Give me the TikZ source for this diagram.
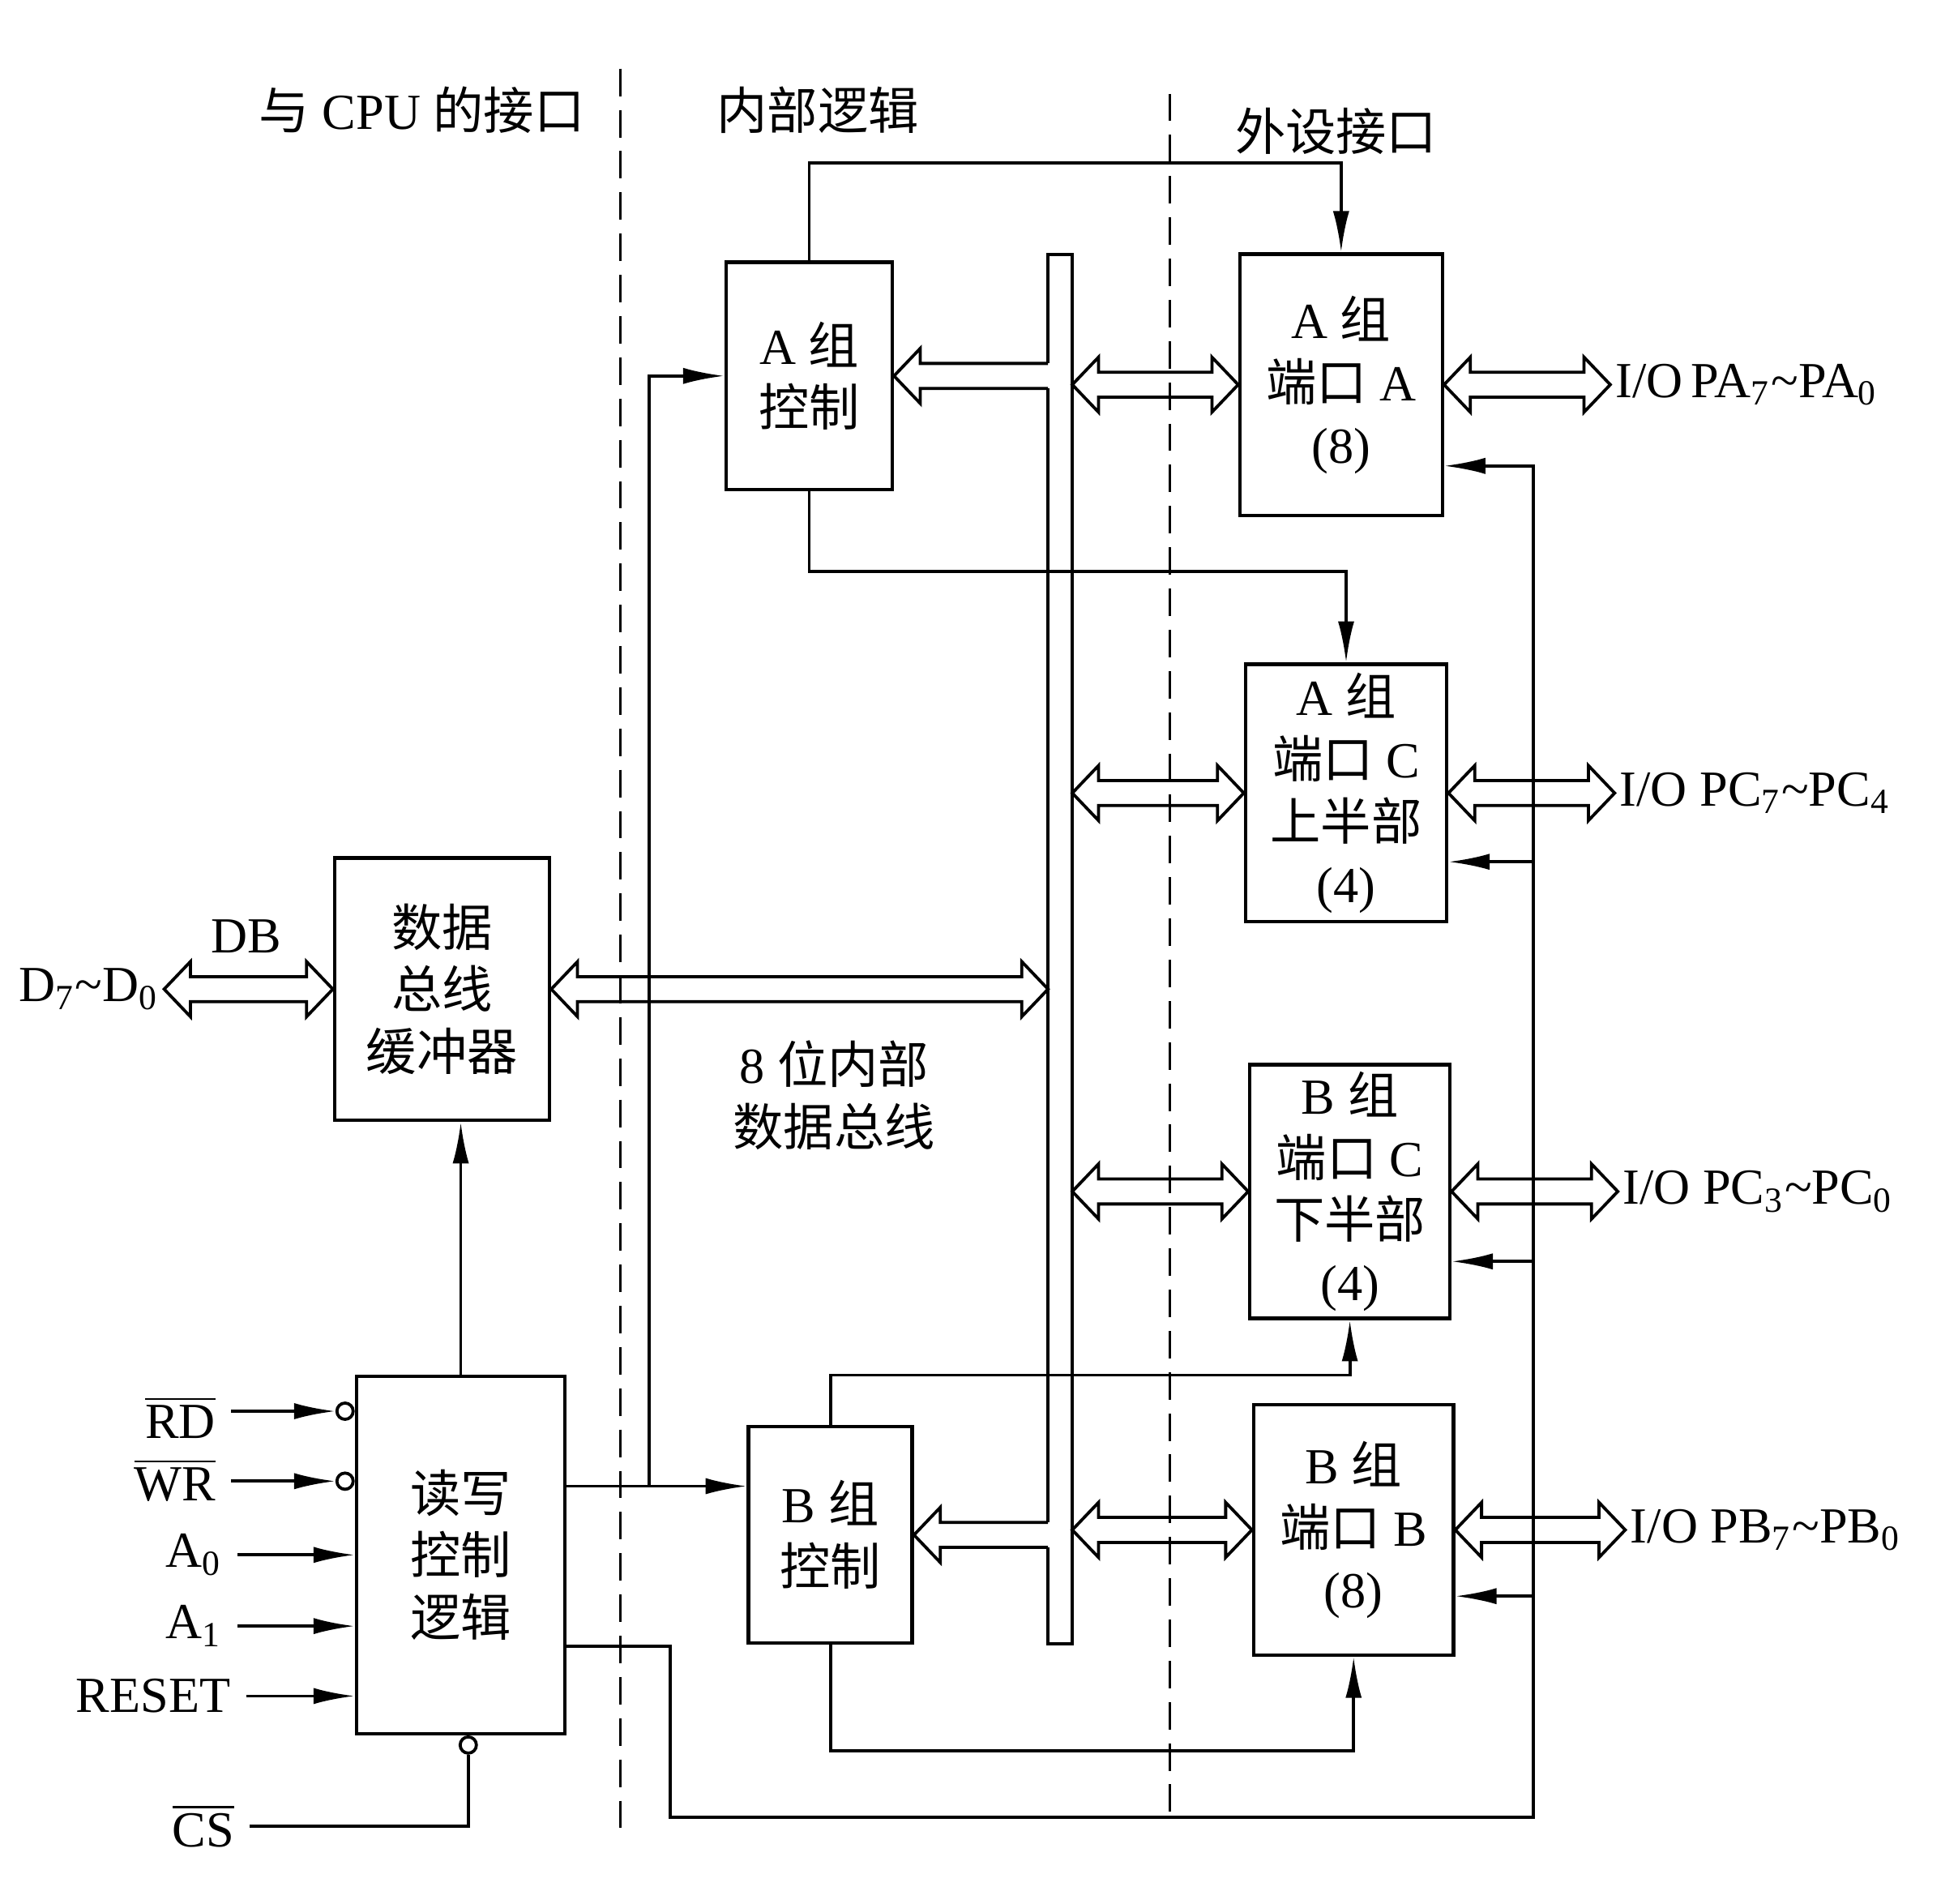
\documentclass[tikz,border=0pt]{standalone}
\usepackage{fontspec}
\setmainfont{Liberation Serif}
\newfontfamily\cjk{Noto Sans CJK SC}
\usepackage{tikz}
\usetikzlibrary{positioning,arrows.meta,calc}

\newcommand\zh[1]{{\cjk #1}}
\newcommand\fz{\fontsize{11.5}{14.2}\selectfont}

\tikzset{
  blk/.style={draw, line width=0.8pt, align=center, inner sep=0pt},
  ln/.style={line width=0.7pt},
  sig/.style={line width=0.7pt, -{Latex[length=3.3mm,width=1.3mm]}},
  inv/.style={circle, draw, line width=0.7pt, minimum size=1.3mm, inner sep=0pt},
  dsh/.style={line width=0.6pt, dash pattern=on 2.2mm off 1.1mm},
  io/.style={inner sep=1pt},
  wide/.style={line width=0.7pt, line join=miter}
}

% hollow bus arrow, heads at both ends
\newcommand\wbus[2]{\draw[wide] let \p1=(#1), \p2=(#2), \n1={sign(\x2-\x1)} in
    (\x1,\y1) -- ({\x1+\n1*2.1mm},{\y1+2.2mm}) -- ({\x1+\n1*2.1mm},{\y1+1mm})
    -- ({\x2-\n1*2.1mm},{\y1+1mm}) -- ({\x2-\n1*2.1mm},{\y1+2.2mm}) -- (\x2,\y1)
    -- ({\x2-\n1*2.1mm},{\y1-2.2mm}) -- ({\x2-\n1*2.1mm},{\y1-1mm})
    -- ({\x1+\n1*2.1mm},{\y1-1mm}) -- ({\x1+\n1*2.1mm},{\y1-2.2mm}) -- cycle;}
% hollow bus arrow, open tail on the bus
\newcommand\wbusl[2]{\draw[wide] let \p1=(#1), \p2=(#2), \n1={sign(\x2-\x1)} in
    (\x1,{\y1+1mm}) -- ({\x2-\n1*2.1mm},{\y1+1mm}) -- ({\x2-\n1*2.1mm},{\y1+2.2mm})
    -- (\x2,\y1) -- ({\x2-\n1*2.1mm},{\y1-2.2mm}) -- ({\x2-\n1*2.1mm},{\y1-1mm})
    -- (\x1,{\y1-1mm});}

\begin{document}
\begin{tikzpicture}[x=0.01cm, y=-0.01cm, font=\fz]
  \useasboundingbox (0,0) rectangle (1568,1524);

  % headings and dividers
  \node (hcpu) at (338,88) {\zh{与} CPU \zh{的接口}};
  \node (hint) at (655,88) {\zh{内部逻辑}};
  \node (hdev) at (1070,105) {\zh{外设接口}};
  \draw[dsh] (497,55) -- (497,1465);
  \draw[dsh] (937,75) -- (937,1460);

  % blocks
  \node[blk, minimum width=1.33cm, minimum height=1.82cm] (actl) at (648,301) {A \zh{组}\\\zh{控制}};
  \node[blk, minimum width=1.62cm, minimum height=2.09cm] (pa) at (1074,308) {A \zh{组}\\\zh{端口} A\\(8)};
  \node[blk, minimum width=1.61cm, minimum height=2.06cm] (pcu) at (1078,635) {A \zh{组}\\\zh{端口} C\\\zh{上半部}\\(4)};
  \node[blk, minimum width=1.60cm, minimum height=2.03cm] (pcl) at (1081,954) {B \zh{组}\\\zh{端口} C\\\zh{下半部}\\(4)};
  \node[blk, minimum width=1.60cm, minimum height=2.00cm] (pb) at (1084,1225) {B \zh{组}\\\zh{端口} B\\(8)};
  \node[blk, minimum width=1.31cm, minimum height=1.73cm] (bctl) at (665,1229) {B \zh{组}\\\zh{控制}};
  \node[blk, minimum width=1.72cm, minimum height=2.10cm] (dbuf) at (354,792) {\zh{数据}\\\zh{总线}\\\zh{缓冲器}};
  \node[blk, minimum width=1.67cm, minimum height=2.86cm] (rw) at (369,1245) {\zh{读写}\\\zh{控制}\\\zh{逻辑}};
  \node[minimum width=1.8mm, minimum height=11.1cm, inner sep=0pt] (bus) at (849,760) {};

  % internal bus outline, open where the control arrows join
  \path (actl.east -| bus.west) coordinate (g1) (bctl.east -| bus.west) coordinate (g2);
  \draw[ln] ([yshift=1mm]g1) -- (bus.north west) -- (bus.north east) -- (bus.south east)
    -- (bus.south west) -- ([yshift=-1mm]g2)
    ([yshift=-1mm]g1) -- ([yshift=1mm]g2);

  % outside labels
  \node[io, right=1.33cm of pa] (ioPA) {I/O\,PA\textsubscript{7}\textasciitilde PA\textsubscript{0}};
  \node[io, right=1.33cm of pcu] (ioPCu) {I/O PC\textsubscript{7}\textasciitilde PC\textsubscript{4}};
  \node[io, right=1.33cm of pcl] (ioPCl) {I/O PC\textsubscript{3}\textasciitilde PC\textsubscript{0}};
  \node[io, right=1.36cm of pb] (ioPB) {I/O PB\textsubscript{7}\textasciitilde PB\textsubscript{0}};
  \node[io, left=1.35cm of dbuf] (dd) {D\textsubscript{7}\textasciitilde D\textsubscript{0}};
  \node (dblab) at (197,750) {DB};
  \node[align=center] (ibus) at (668,877) {8 \zh{位内部}\\\zh{数据总线}};

  % hollow bus arrows
  \wbus{dd.east}{dbuf.west}
  \wbus{dbuf.east}{dbuf.east -| bus.west}
  \wbusl{g1}{actl.east}
  \wbusl{g2}{bctl.east}
  \wbus{pa.west -| bus.east}{pa.west}
  \wbus{pcu.west -| bus.east}{pcu.west}
  \wbus{pcl.west -| bus.east}{pcl.west}
  \wbus{pb.west -| bus.east}{pb.west}
  \wbus{pa.east}{ioPA.west}
  \wbus{pcu.east}{ioPCu.west}
  \wbus{pcl.east}{ioPCl.west}
  \wbus{pb.east}{ioPB.west}

  % control lines from the group controls
  \draw[sig] (actl.north) -- ++(0,-78) -| (pa.north);
  \draw[sig] (actl.south) -- ++(0,64) -| (pcu.north);
  \draw[sig] (bctl.north) -- ++(0,-40) -| (pcl.south);
  \draw[sig] (bctl.south) -- ++(0,85) -| (pb.south);

  % read/write logic outputs
  \coordinate (rwo) at ([yshift=5.5mm]rw.east);
  \coordinate (rwf) at ([yshift=-7.3mm]rw.east);
  \coordinate (fb) at (1228,1455);
  \coordinate (ina) at ([yshift=-6.5mm]pa.east);
  \coordinate (inc) at ([yshift=-5.5mm]pcu.east);
  \coordinate (ind) at ([yshift=-5.6mm]pcl.east);
  \coordinate (inb) at ([yshift=-5.3mm]pb.east);
  \draw[sig] (rwo) -- (rwo -| bctl.west);
  \draw[sig] ([xshift=6.6mm]rwo) |- (actl.west);
  \draw[sig] (rwf) -- ++(83,0) |- (fb) |- (ina);
  \draw[sig] (fb |- inc) -- (inc);
  \draw[sig] (fb |- ind) -- (ind);
  \draw[sig] (fb |- inb) -- (inb);
  \draw[sig] (rw.north) -- (rw.north |- dbuf.south);

  % CPU side inputs
  \node[inv, anchor=east] (nrd) at ([yshift=11.5mm]rw.west) {};
  \node[inv, anchor=east] (nwr) at ([yshift=5.9mm]rw.west) {};
  \node[inv, anchor=north] (ncs) at ([xshift=0.6mm]rw.south) {};
  \node[anchor=east] (rd) at (185,1135) {$\overline{\mbox{RD}}$};
  \node[anchor=east] (wr) at (185,1185) {$\overline{\mbox{WR}}$};
  \node[anchor=east] (a0) at (190,1245) {A\textsubscript{0}};
  \node[anchor=east] (a1) at (190,1302) {A\textsubscript{1}};
  \node[anchor=east] (rst) at (197,1358) {RESET};
  \node[anchor=east] (cs) at (200,1462) {$\overline{\mbox{CS}}$};
  \draw[sig] (rd.east |- nrd) -- (nrd.west);
  \draw[sig] (wr.east |- nwr) -- (nwr.west);
  \draw[sig] (a0.east) -- (a0.east -| rw.west);
  \draw[sig] (a1.east) -- (a1.east -| rw.west);
  \draw[sig] (rst.east) -- (rst.east -| rw.west);
  \draw[ln] (cs.east) -| (ncs.south);
\end{tikzpicture}
\end{document}
